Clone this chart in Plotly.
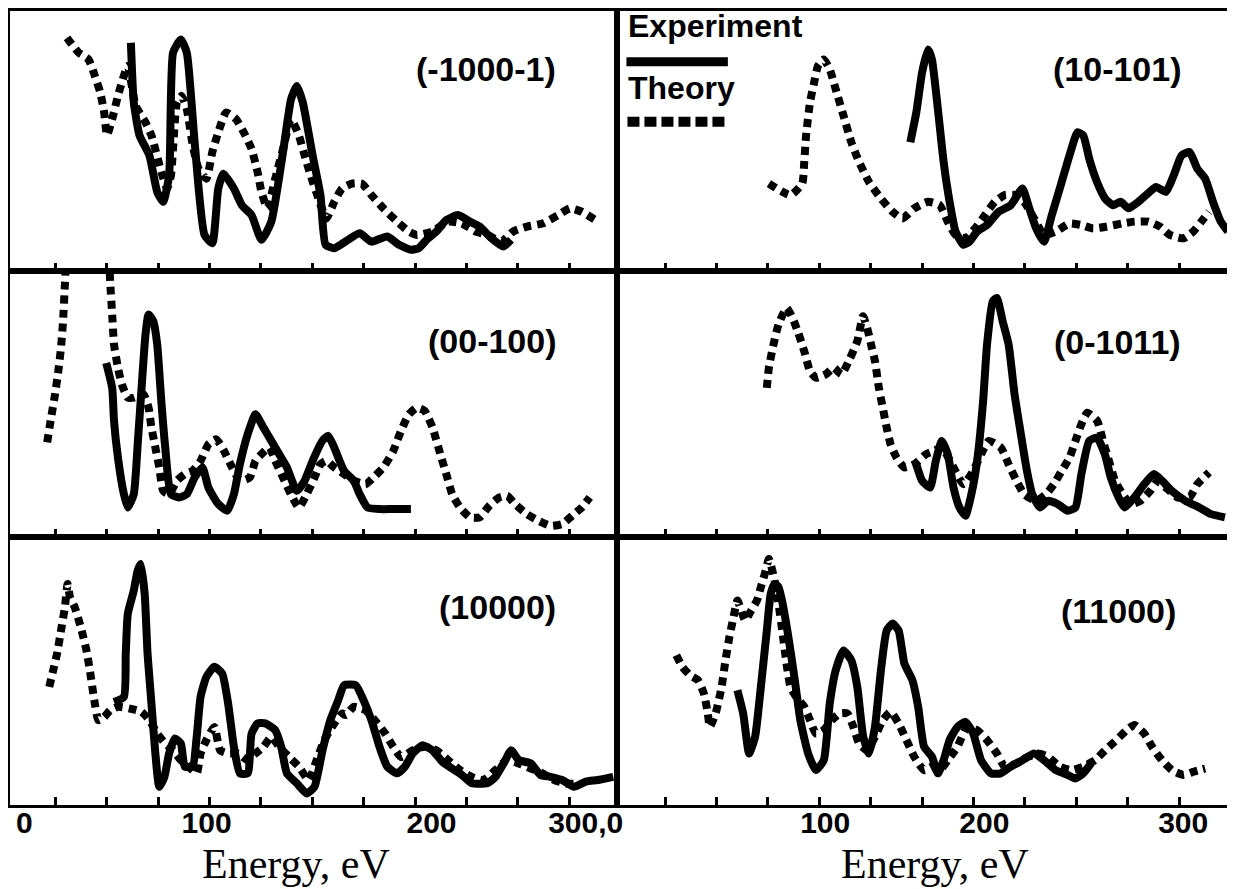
import plotly.graph_objects as go

# ---------------- data (energy in eV, intensity in arbitrary units) ----------------
# (-1000-1)
p1_exp_x = [61.8, 63.2, 66.0, 70.8, 74.6, 77.5, 80.4, 82.3, 86.1, 89.0, 92.8, 97.6, 101.4, 104.3, 106.8, 111.9, 115.8, 120.5, 125.3, 130.1, 135.8, 139.7, 142.5, 145.4, 150.2, 154.0, 156.5, 160.7, 167.4, 173.1, 178.8, 186.5, 192.2, 198.0, 201.8, 205.6, 210.4, 215.2, 220.9, 226.7, 231.4, 237.2, 242.9, 246.7]
p1_exp_y = [87.8, 64.9, 52.2, 44.5, 30.5, 26.7, 36.9, 84.0, 89.1, 84.0, 49.6, 14.0, 10.8, 31.8, 37.5, 31.8, 25.4, 21.6, 12.1, 19.1, 45.8, 66.1, 71.2, 64.9, 44.5, 29.3, 10.2, 8.9, 12.1, 14.6, 11.4, 13.4, 10.2, 8.3, 8.9, 12.1, 15.3, 19.7, 21.6, 19.1, 17.2, 12.7, 9.5, 12.1]
p1_th_x = [30.7, 36.4, 41.2, 44.0, 46.9, 48.8, 50.2, 52.7, 55.5, 58.4, 60.3, 64.1, 68.9, 71.8, 76.6, 79.4, 81.3, 84.2, 86.5, 89.0, 91.9, 94.7, 98.5, 101.4, 104.3, 108.1, 112.9, 116.7, 120.5, 123.4, 125.3, 128.2, 132.0, 135.8, 139.7, 143.5, 146.3, 149.2, 153.0, 156.9, 160.7, 164.5, 169.3, 174.1, 178.8, 184.6, 191.3, 197.0, 200.8, 208.5, 216.1, 222.8, 229.5, 235.3, 241.9, 247.7, 254.4, 262.0, 269.7, 275.4, 281.1, 287.8]
p1_th_y = [89.7, 84.0, 81.4, 75.7, 68.7, 61.0, 52.2, 58.5, 67.4, 75.1, 78.9, 63.6, 57.2, 52.2, 38.2, 31.8, 36.9, 64.9, 67.4, 62.3, 48.3, 39.4, 35.6, 45.8, 53.4, 61.0, 58.5, 53.4, 47.0, 38.2, 30.5, 24.2, 35.6, 47.0, 58.5, 52.2, 44.5, 36.9, 28.0, 20.3, 26.7, 31.8, 33.7, 33.7, 29.3, 24.2, 19.1, 15.3, 14.0, 15.3, 19.1, 18.4, 15.3, 14.0, 11.4, 15.3, 17.2, 18.4, 21.6, 24.2, 22.9, 19.7]

# (10-101)
p2_exp_x = [144.3, 147.2, 150.0, 152.9, 154.8, 157.7, 160.5, 163.4, 166.3, 170.1, 173.0, 176.8, 181.6, 187.3, 193.1, 198.8, 201.7, 205.5, 209.3, 213.1, 217.9, 221.7, 225.6, 228.4, 231.3, 235.1, 239.0, 242.8, 246.6, 250.4, 255.2, 259.0, 263.8, 268.6, 272.4, 276.2, 280.1, 283.9, 287.7, 291.5, 295.3, 298.8]
p2_exp_y = [49.6, 61.0, 76.3, 85.2, 81.4, 62.3, 42.0, 26.7, 15.3, 10.2, 11.4, 15.3, 17.8, 22.9, 25.4, 31.8, 25.4, 16.5, 11.4, 21.6, 34.3, 44.5, 53.4, 52.2, 43.3, 34.3, 28.0, 25.4, 26.7, 24.2, 26.7, 29.3, 32.4, 30.5, 36.9, 44.5, 45.8, 39.4, 35.6, 26.7, 19.1, 15.3]
p2_th_x = [75.5, 86.0, 91.7, 92.7, 93.6, 95.5, 97.5, 99.4, 102.2, 105.1, 108.0, 111.8, 115.6, 119.4, 124.2, 130.0, 135.7, 140.5, 146.2, 152.9, 158.6, 162.5, 166.3, 171.1, 175.8, 180.6, 185.4, 190.2, 195.9, 199.7, 204.5, 209.3, 215.0, 221.7, 227.5, 233.2, 239.9, 247.5, 253.3, 260.0, 265.7, 270.5, 277.2, 281.9, 285.8, 289.6]
p2_th_y = [33.7, 29.3, 33.7, 42.0, 52.2, 64.9, 72.5, 78.9, 81.4, 77.6, 70.0, 59.8, 49.6, 42.0, 34.3, 28.0, 22.9, 20.3, 24.2, 26.7, 25.4, 19.1, 14.0, 12.7, 16.5, 21.6, 26.7, 29.3, 29.3, 26.7, 20.3, 14.0, 15.3, 18.4, 17.8, 16.5, 17.2, 18.4, 19.1, 19.1, 17.2, 14.0, 12.7, 15.3, 19.1, 22.9]

# (00-100)
p3_exp_x = [49.8, 52.7, 53.6, 55.5, 58.4, 60.3, 63.2, 65.1, 67.0, 68.9, 70.4, 72.7, 74.6, 76.6, 78.5, 81.3, 85.2, 89.0, 92.8, 96.6, 99.5, 104.3, 108.7, 111.9, 114.8, 118.6, 122.4, 126.3, 130.1, 133.9, 137.7, 142.5, 146.3, 150.2, 154.9, 157.8, 160.7, 165.5, 170.2, 173.1, 176.9, 182.7, 189.4, 198.0]
p3_exp_y = [65.5, 56.1, 43.6, 29.8, 16.0, 11.0, 16.0, 34.8, 56.1, 76.2, 83.7, 81.2, 72.4, 51.1, 33.6, 16.0, 14.8, 16.0, 22.3, 26.1, 18.5, 12.3, 9.8, 16.0, 27.3, 38.6, 46.1, 41.1, 36.1, 31.1, 26.1, 17.3, 21.1, 28.6, 36.1, 38.0, 33.6, 24.8, 21.1, 16.0, 11.0, 10.4, 10.4, 10.4]
p3_th_x = [21.1, 23.0, 24.9, 26.5, 27.8, 28.8, 29.7, 31.0, 40.0, 50.5, 51.7, 52.7, 53.6, 55.5, 57.4, 60.3, 63.2, 67.9, 70.4, 71.8, 73.7, 75.6, 77.5, 80.4, 84.2, 88.0, 91.8, 95.7, 99.5, 103.3, 107.1, 111.0, 114.8, 119.6, 122.4, 125.3, 129.1, 132.0, 135.8, 139.6, 143.5, 147.3, 151.1, 154.0, 156.9, 160.7, 165.5, 170.2, 176.0, 179.8, 184.6, 189.4, 193.2, 197.0, 200.8, 204.7, 208.5, 212.3, 215.2, 218.1, 221.9, 226.7, 231.4, 236.2, 241.0, 244.8, 248.6, 254.4, 260.1, 265.8, 271.6, 277.3, 281.1, 285.0]
p3_th_y = [35.5, 44.9, 53.6, 62.4, 71.2, 81.2, 95.0, 112.0, 140.0, 112.0, 96.2, 83.7, 72.4, 63.7, 57.4, 52.4, 52.4, 53.6, 48.6, 41.1, 33.6, 26.1, 17.3, 16.0, 21.1, 23.6, 24.8, 28.6, 34.8, 36.7, 32.3, 26.1, 21.1, 22.3, 28.6, 31.1, 33.6, 28.6, 22.3, 16.0, 11.0, 16.0, 22.3, 27.3, 28.6, 26.1, 23.6, 21.1, 19.8, 22.3, 26.1, 32.3, 39.9, 46.1, 48.6, 47.4, 41.1, 31.1, 23.6, 16.0, 11.0, 7.3, 7.3, 11.7, 14.8, 15.4, 12.3, 8.5, 6.0, 4.1, 4.8, 8.5, 11.0, 14.8]

# (0-1011)
p4_exp_x = [147.2, 150.0, 153.9, 156.7, 159.6, 162.5, 165.3, 168.2, 171.1, 174.0, 176.8, 179.7, 181.6, 184.4, 186.4, 189.2, 192.1, 195.0, 197.8, 200.7, 203.6, 207.4, 211.2, 216.0, 220.8, 224.6, 227.5, 231.3, 235.1, 238.9, 241.8, 245.6, 248.5, 253.3, 258.1, 262.8, 266.7, 271.4, 278.1, 284.8, 290.6, 297.3]
p4_exp_y = [27.3, 21.1, 18.5, 28.6, 36.1, 31.1, 18.5, 11.0, 7.9, 16.0, 28.6, 51.1, 72.4, 88.7, 90.0, 81.2, 72.4, 53.6, 39.9, 26.1, 16.0, 11.0, 13.5, 12.3, 9.8, 11.0, 23.6, 36.1, 37.3, 31.1, 22.3, 14.8, 11.0, 14.8, 19.8, 23.6, 21.1, 17.3, 13.5, 11.0, 8.5, 7.3]
p4_th_x = [74.5, 75.5, 77.4, 80.2, 84.1, 87.0, 89.8, 92.7, 95.5, 98.4, 103.2, 107.0, 110.8, 114.7, 118.5, 121.3, 123.3, 125.2, 127.1, 129.0, 130.9, 132.8, 134.7, 137.6, 141.4, 146.2, 152.0, 155.8, 159.6, 165.3, 170.1, 174.9, 178.7, 182.5, 188.3, 192.1, 195.9, 199.7, 205.5, 210.3, 214.1, 217.9, 221.7, 224.6, 227.5, 230.4, 235.2, 238.0, 240.9, 243.8, 247.6, 251.4, 256.2, 261.0, 264.8, 268.6, 274.3, 280.1, 283.9, 289.6]
p4_th_y = [56.1, 63.7, 71.2, 80.0, 86.2, 82.5, 76.8, 69.9, 62.4, 59.9, 61.2, 63.7, 61.2, 66.8, 73.7, 83.1, 78.7, 72.4, 66.2, 56.1, 48.6, 41.1, 34.8, 29.8, 26.1, 27.3, 31.1, 32.3, 33.6, 26.1, 19.8, 24.8, 31.1, 36.1, 33.6, 27.3, 21.1, 16.0, 13.5, 16.0, 19.8, 24.8, 29.8, 36.1, 42.4, 46.7, 43.6, 36.1, 28.6, 21.1, 16.0, 12.3, 13.5, 17.3, 21.1, 18.5, 14.8, 14.8, 19.8, 24.2]

# (10000)
p5_exp_x = [53.6, 58.4, 59.3, 60.3, 63.2, 65.1, 66.6, 68.5, 69.9, 71.8, 73.7, 75.6, 78.1, 80.4, 83.2, 86.1, 88.0, 91.8, 93.8, 95.7, 98.5, 102.4, 106.2, 109.1, 111.9, 114.8, 118.6, 120.5, 123.4, 127.2, 132.0, 134.9, 137.7, 142.5, 147.3, 151.1, 155.0, 158.8, 162.6, 165.5, 171.2, 175.0, 178.8, 182.7, 186.5, 191.3, 195.1, 198.9, 203.7, 208.5, 213.3, 218.0, 222.8, 227.6, 235.2, 239.1, 243.9, 246.7, 250.5, 256.3, 261.0, 265.9, 271.6, 277.3, 283.1, 288.8, 296.4]
p5_exp_y = [38.4, 40.3, 56.4, 71.3, 79.9, 87.4, 89.8, 78.7, 56.4, 37.8, 19.2, 6.8, 10.5, 19.2, 24.8, 22.9, 14.3, 14.3, 25.4, 40.3, 47.7, 51.5, 49.0, 37.8, 21.7, 11.8, 11.8, 26.6, 30.4, 30.4, 27.9, 21.7, 11.8, 8.1, 4.3, 6.8, 20.4, 31.6, 39.0, 44.6, 44.6, 39.0, 31.6, 21.7, 14.3, 11.8, 14.3, 19.2, 22.3, 20.4, 16.1, 13.6, 11.2, 8.1, 8.1, 10.5, 16.7, 20.4, 16.7, 15.5, 11.2, 10.5, 9.3, 6.8, 8.7, 9.3, 10.5]
p5_th_x = [22.1, 24.0, 25.9, 27.8, 29.7, 31.0, 32.2, 34.5, 37.4, 40.2, 42.1, 44.0, 46.0, 48.8, 51.7, 55.5, 61.3, 67.0, 70.8, 74.6, 78.5, 82.3, 86.1, 89.9, 93.8, 95.7, 98.5, 102.4, 105.2, 109.1, 113.8, 118.6, 122.4, 126.3, 130.1, 133.9, 138.7, 143.5, 148.3, 152.1, 155.9, 160.7, 164.5, 166.4, 170.2, 176.0, 181.7, 185.5, 189.4, 193.2, 198.9, 204.7, 210.4, 216.1, 221.9, 227.6, 233.3, 239.1, 244.8, 250.5, 256.3, 262.0, 267.7, 273.5, 279.2]
p5_th_y = [44.0, 50.2, 56.4, 65.0, 73.7, 82.4, 77.4, 73.7, 66.3, 57.6, 48.9, 39.0, 31.6, 32.8, 35.3, 36.6, 35.9, 34.7, 31.6, 26.6, 22.9, 20.4, 16.7, 14.3, 11.8, 19.2, 24.2, 29.1, 20.4, 19.2, 19.2, 16.7, 19.2, 21.7, 25.4, 21.7, 17.9, 14.3, 9.3, 16.7, 24.2, 30.4, 34.1, 33.5, 36.6, 35.3, 30.4, 26.6, 21.7, 17.9, 20.4, 21.7, 20.4, 16.7, 13.0, 10.5, 9.3, 13.0, 16.7, 15.5, 13.6, 11.8, 9.3, 8.0, 8.0]

# (11000)
p6_exp_x = [60.2, 63.0, 65.9, 68.8, 71.6, 74.5, 76.4, 78.3, 80.2, 82.2, 85.0, 87.9, 90.8, 94.6, 98.4, 102.2, 105.1, 108.0, 111.8, 115.6, 118.5, 121.4, 124.2, 127.1, 130.0, 132.8, 135.7, 138.6, 141.4, 145.3, 148.1, 151.0, 154.8, 157.7, 160.5, 163.4, 167.2, 171.1, 174.9, 178.7, 183.5, 188.3, 193.1, 198.8, 204.5, 209.3, 215.0, 220.8, 224.6, 228.4, 232.2]
p6_exp_y = [42.8, 34.1, 19.2, 25.4, 44.0, 65.0, 78.7, 82.4, 81.2, 75.0, 62.6, 47.7, 31.6, 19.2, 13.0, 16.7, 37.8, 50.2, 57.6, 53.9, 44.0, 25.4, 19.2, 29.1, 50.2, 65.0, 67.6, 65.0, 52.7, 46.5, 36.6, 21.7, 18.0, 11.8, 16.7, 24.2, 29.1, 31.0, 26.6, 16.7, 11.8, 11.8, 14.3, 16.7, 19.2, 16.7, 13.0, 11.2, 9.9, 11.8, 15.5]
p6_th_x = [30.5, 33.4, 37.2, 41.0, 43.9, 45.8, 46.8, 49.6, 52.5, 54.4, 56.3, 58.3, 60.2, 64.0, 66.9, 69.7, 71.6, 73.5, 75.5, 78.3, 80.2, 82.2, 84.1, 86.0, 88.8, 92.7, 95.5, 98.4, 102.2, 106.1, 109.9, 113.7, 116.6, 119.4, 123.3, 127.1, 130.9, 134.7, 138.6, 142.4, 146.2, 151.0, 154.8, 158.6, 162.5, 167.2, 172.0, 176.8, 181.6, 186.4, 190.2, 195.9, 201.7, 206.4, 211.2, 217.0, 222.7, 228.4, 234.2, 239.0, 243.7, 249.5, 253.3, 258.1, 261.9, 266.7, 271.5, 277.2, 282.0, 287.7]
p6_th_y = [55.8, 51.5, 48.3, 46.5, 41.5, 34.1, 29.1, 34.1, 44.0, 53.9, 62.6, 70.0, 76.2, 68.8, 72.5, 76.2, 81.2, 86.1, 91.7, 83.6, 75.0, 63.8, 52.7, 44.0, 40.3, 36.6, 31.6, 26.6, 27.9, 31.6, 34.1, 34.1, 29.1, 22.9, 20.4, 25.4, 31.6, 34.7, 30.4, 24.2, 18.0, 13.0, 14.3, 13.0, 16.7, 21.7, 29.1, 27.9, 24.2, 19.2, 14.3, 15.5, 18.0, 19.2, 18.0, 14.3, 13.0, 14.3, 16.7, 20.4, 23.6, 27.9, 29.8, 26.6, 21.7, 16.7, 13.0, 11.2, 12.4, 13.6]

panel_labels = ["(-1000-1)", "(10-101)", "(00-100)", "(0-1011)", "(10000)", "(11000)"]
minor_ticks = [25, 50, 75, 100, 125, 150, 175, 200, 225, 250, 275]
left_tick_vals = [10.0, 98.6, 208.0, 283.0]
left_tick_text = ["0", "100", "200", "300,0"]
right_tick_vals = [102.9, 180.3, 277.0]
right_tick_text = ["100", "200", "300"]
legend_names = ["Experiment", "Theory"]

# ---------------- layout geometry ----------------
# the page body has an 8px default margin, so the figure is drawn 8px smaller
OFF = 8
W, H = 1235 - OFF, 889 - OFF
ML, MR, MT, MB = 2, 0, 1, 84
PW, PH = W - ML - MR, H - MT - MB


def fx(px):  # page pixel -> paper fraction
    return (px - OFF - ML) / PW


def fy(py):
    return (H - MB - (py - OFF)) / PH


xdom = [[0, fx(620)], [fx(620), 1]]
ydom = [[fy(270), 1], [fy(536), fy(270)], [0, fy(536)]]
xranges = [[3, 298], [1.4, 298.8]]

panels = [
    (p1_exp_x, p1_exp_y, p1_th_x, p1_th_y),
    (p2_exp_x, p2_exp_y, p2_th_x, p2_th_y),
    (p3_exp_x, p3_exp_y, p3_th_x, p3_th_y),
    (p4_exp_x, p4_exp_y, p4_th_x, p4_th_y),
    (p5_exp_x, p5_exp_y, p5_th_x, p5_th_y),
    (p6_exp_x, p6_exp_y, p6_th_x, p6_th_y),
]

fig = go.Figure()
layout = dict(
    width=W, height=H,
    margin=dict(l=ML, r=MR, t=MT, b=MB),
    paper_bgcolor="white", plot_bgcolor="white",
    showlegend=False,
    font=dict(family="Liberation Sans", color="black"),
)

for i, (ex, ey, tx, ty) in enumerate(panels):
    row, col = divmod(i, 2)
    n = i + 1
    xa = "x" if n == 1 else f"x{n}"
    ya = "y" if n == 1 else f"y{n}"
    fig.add_trace(go.Scatter(x=tx, y=ty, mode="lines", xaxis=xa, yaxis=ya,
                             name="Theory",
                             line=dict(color="black", width=8, dash="8px,6px",
                                       shape="spline", smoothing=0.5)))
    fig.add_trace(go.Scatter(x=ex, y=ey, mode="lines", xaxis=xa, yaxis=ya,
                             name="Experiment",
                             line=dict(color="black", width=8,
                                       shape="spline", smoothing=0.5)))
    xkey = "xaxis" if n == 1 else f"xaxis{n}"
    ykey = "yaxis" if n == 1 else f"yaxis{n}"
    xax = dict(domain=xdom[col], range=xranges[col], anchor=ya,
               showgrid=False, zeroline=False,
               showline=True, linecolor="black", linewidth=3, mirror=True)
    if row < 2:
        xax.update(tickmode="array", tickvals=minor_ticks, ticks="inside",
                   ticklen=8, tickwidth=2.5, tickcolor="black",
                   showticklabels=False)
    else:
        xax.update(tickmode="array",
                   tickvals=left_tick_vals if col == 0 else right_tick_vals,
                   ticktext=left_tick_text if col == 0 else right_tick_text,
                   ticks="", ticklabelstandoff=-11,
                   tickfont=dict(family="Liberation Sans", size=30,
                                 color="black", weight="bold"),
                   minor=dict(tickmode="array", tickvals=minor_ticks,
                              ticks="inside", ticklen=8, tickwidth=2.5,
                              tickcolor="black"))
    yax = dict(domain=ydom[row], range=[0, 100], anchor=xa,
               showgrid=False, zeroline=False, showticklabels=False,
               ticks="", showline=True, linecolor="black", linewidth=3,
               mirror=(col == 0))
    layout[xkey] = xax
    layout[ykey] = yax

# panel labels
label_pos = [(489, 67), (1124, 67), (495, 340), (1124, 341), (500, 606), (1125, 611)]
annotations = []
for txt, (px, py) in zip(panel_labels, label_pos):
    annotations.append(dict(text=txt, x=fx(px), y=fy(py), xref="paper", yref="paper",
                            xanchor="center", yanchor="middle", showarrow=False,
                            font=dict(family="Liberation Sans", size=34,
                                      color="black", weight="bold")))
# x axis titles
for px in (298, 940):
    annotations.append(dict(text="Energy, eV", x=fx(px), y=fy(864), xref="paper", yref="paper",
                            xanchor="center", yanchor="middle", showarrow=False,
                            font=dict(family="Liberation Serif", size=42, color="black")))
# legend texts
annotations.append(dict(text=legend_names[0], x=fx(630), y=fy(24), xref="paper", yref="paper",
                        xanchor="left", yanchor="middle", showarrow=False,
                        font=dict(family="Liberation Sans", size=32, color="black", weight="bold")))
annotations.append(dict(text=legend_names[1], x=fx(630), y=fy(86), xref="paper", yref="paper",
                        xanchor="left", yanchor="middle", showarrow=False,
                        font=dict(family="Liberation Sans", size=32, color="black", weight="bold")))
layout["annotations"] = annotations

layout["shapes"] = [
    dict(type="line", xref="paper", yref="paper", x0=fx(630), x1=fx(732), y0=fy(60), y1=fy(60),
         line=dict(color="black", width=9)),
    dict(type="line", xref="paper", yref="paper", x0=fx(631), x1=fx(731), y0=fy(120), y1=fy(120),
         line=dict(color="black", width=10, dash="12px,5px")),
]

fig.update_layout(**layout)
fig.write_html("out.html")
